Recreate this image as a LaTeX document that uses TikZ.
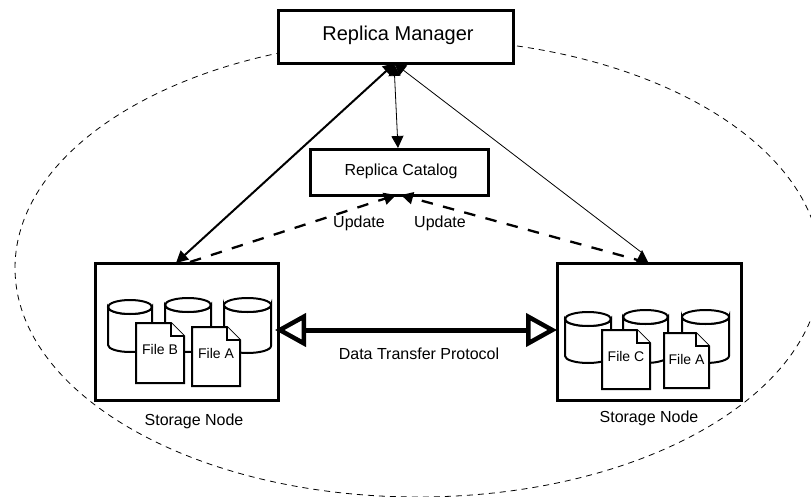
\documentclass[tikz,border=0pt]{standalone}
\usepackage{fontspec}
\setmainfont{Liberation Sans}
\usetikzlibrary{arrows.meta}
\tikzset{
 box/.style={draw,line width=2.6pt,fill=white,inner sep=0pt,anchor=north west},
 lbl/.style={inner sep=0pt,font=\fontsize{16}{18}\selectfont},
 filelbl/.style={inner sep=0pt,font=\fontsize{14}{16}\selectfont},
 cyl/.style={line width=2pt,fill=white},
 filebox/.style={line width=2pt,fill=white,line join=miter},
 conn/.style={-{Triangle[length=12pt,width=12pt]}},
 both/.style={{Triangle[length=12pt,width=12pt]}-{Triangle[length=12pt,width=12pt]}},
 updatearrow/.style={conn,dash pattern=on 11.5pt off 10.5pt,line width=2.3pt}
}
\newcommand{\cylshape}[4]{% x1 x2 ytop ybottom
 \path[cyl,draw] (#1,#3+7) -- (#1,#4-7) arc[start angle=180,end angle=0,x radius={(#2-#1)/2},y radius=7] -- (#2,#3+7) arc[start angle=0,end angle=180,x radius={(#2-#1)/2},y radius=7] -- cycle;
 \draw[cyl] ({(#1+#2)/2},#3+7) ellipse[x radius={(#2-#1)/2},y radius=7];
}
\newcommand{\fileshape}[5]{% x1 x2 y1 y2 text
 \draw[filebox] (#1,#3) -- (#2-13,#3) -- (#2,#3+13) -- (#2,#4) -- (#1,#4) -- cycle;
 \draw[filebox] (#2-13,#3) -- (#2-13,#3+13) -- (#2,#3+13);
 \node[filelbl] at ({(#1+#2)/2},{#3+26}) {#5};
}
\begin{document}
\begin{tikzpicture}[x=1pt,y=-1pt]
\useasboundingbox (0,0) rectangle (811,497);
\begin{scope}
\clip (0,0) rectangle (811,497);
\draw[line width=0.8pt,dash pattern=on 6pt off 5pt] (418,268) ellipse[x radius=403,y radius=229];
\end{scope}
\node[box,minimum width=235pt,minimum height=53pt] (mgr) at (277,9) {};
\node[inner sep=0pt,font=\fontsize{20}{22}\selectfont] at (398,35) {Replica Manager};
\node[box,minimum width=178pt,minimum height=46pt] (cat) at (309,148) {};
\node[lbl] at (401,171) {Replica Catalog};
\node[box,line width=3pt,minimum width=183pt,minimum height=137pt] (sl) at (94,262) {};
\node[box,line width=3pt,minimum width=184pt,minimum height=137pt] (sr) at (556,262) {};
\coordinate (mgrA) at (395,63);
\coordinate (mgrB) at (394,64);
\coordinate (mgrC) at (394,63);
\coordinate (catT) at (398,148);
\coordinate (catL) at (396,195);
\coordinate (catR) at (401,195);
\coordinate (slT) at (176,263);
\coordinate (srT) at (641,252);
\coordinate (slD) at (190,262);
\coordinate (srD) at (645,262);
\coordinate (slR) at (275,330);
\coordinate (srL) at (557,330);
\draw[both,line width=2pt] (slT) -- (mgrA);
\draw[both,line width=0.8pt] (mgrB) -- (catT);
\draw[conn,line width=0.8pt] (srT) -- (mgrC);
\fill (642,250) -- (636,262) -- (648,262) -- cycle;
\draw[updatearrow] (slD) -- (catL);
\draw[updatearrow] (srD) -- (catR);
\node[lbl] at (359,223) {Update};
\node[lbl] at (440,223) {Update};
\draw[line width=5pt,{Triangle[open,length=31pt,width=33pt,line width=4.5pt]}-{Triangle[open,length=31pt,width=33pt,line width=4.5pt]}] (slR) -- (srL);
\node[lbl] at (419,354) {Data Transfer Protocol};
\node[lbl] at (194,421) {Storage Node};
\node[lbl] at (649,418) {Storage Node};
\cylshape{108}{152}{300}{352}
\cylshape{165}{211}{298}{352}
\cylshape{224}{271}{298}{353}
\fileshape{136}{184}{323}{383}{File B}
\fileshape{192}{240}{327}{386}{File A}
\cylshape{565}{611}{312}{363}
\cylshape{623}{668}{310}{363}
\cylshape{682}{729}{310}{363}
\fileshape{602}{650}{330}{389}{File C}
\fileshape{664}{709}{333}{388}{File A}
\end{tikzpicture}
\end{document}
